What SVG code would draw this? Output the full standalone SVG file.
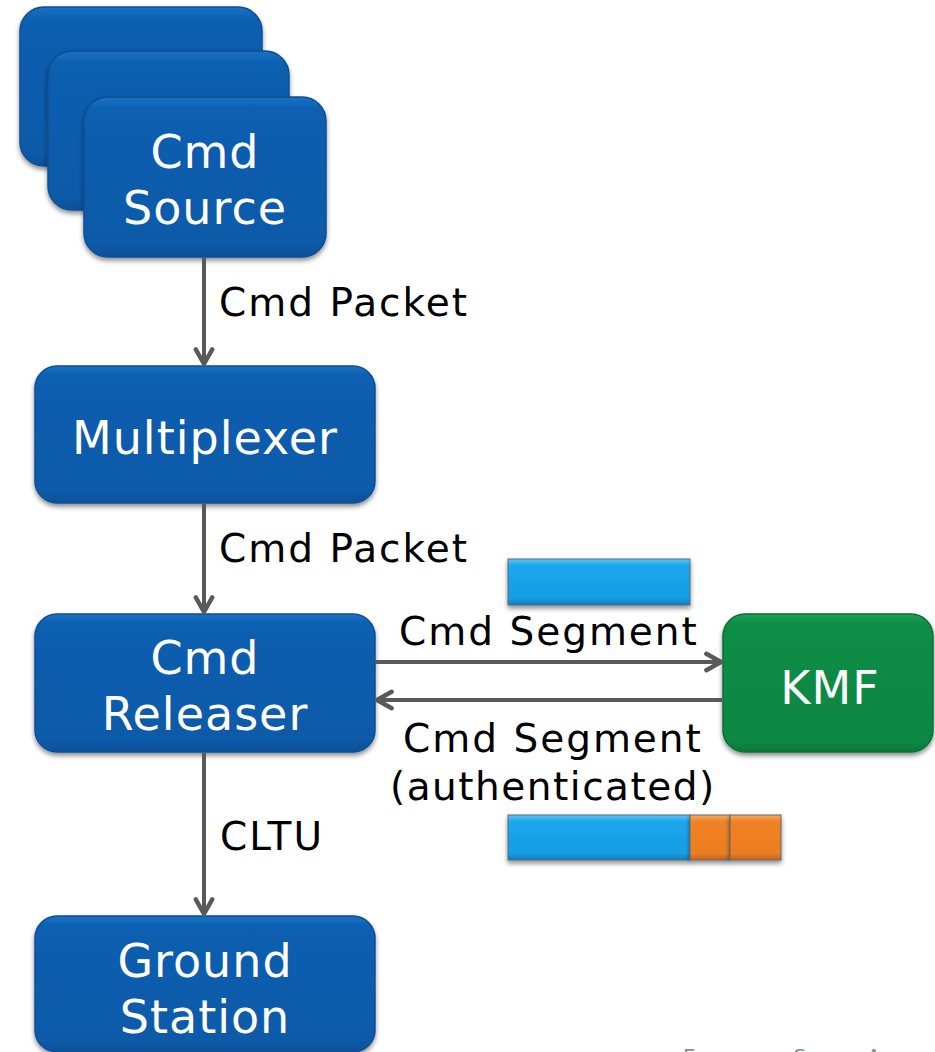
<svg xmlns="http://www.w3.org/2000/svg" width="935" height="1052" viewBox="0 0 935 1052">
  <defs>
    <linearGradient id="blueFill" x1="0" y1="0" x2="0" y2="1">
      <stop offset="0" stop-color="#1a72c4"/>
      <stop offset="0.08" stop-color="#0b5eb0"/>
      <stop offset="0.92" stop-color="#0a5aa9"/>
      <stop offset="1" stop-color="#094f96"/>
    </linearGradient>
    <linearGradient id="greenFill" x1="0" y1="0" x2="0" y2="1">
      <stop offset="0" stop-color="#1fa055"/>
      <stop offset="0.08" stop-color="#0d8c45"/>
      <stop offset="0.92" stop-color="#0c8843"/>
      <stop offset="1" stop-color="#0a7639"/>
    </linearGradient>
    <linearGradient id="cyanFill" x1="0" y1="0" x2="0" y2="1">
      <stop offset="0" stop-color="#5cc4f5"/>
      <stop offset="0.15" stop-color="#1ba6ec"/>
      <stop offset="0.85" stop-color="#179ee3"/>
      <stop offset="1" stop-color="#0f7dbb"/>
    </linearGradient>
    <linearGradient id="orangeFill" x1="0" y1="0" x2="0" y2="1">
      <stop offset="0" stop-color="#f7a95e"/>
      <stop offset="0.15" stop-color="#f08225"/>
      <stop offset="0.85" stop-color="#ec7d22"/>
      <stop offset="1" stop-color="#c4621a"/>
    </linearGradient>
    <filter id="shadow" x="-10%" y="-10%" width="120%" height="130%">
      <feGaussianBlur in="SourceAlpha" stdDeviation="2.5"/>
      <feOffset dx="0" dy="3" result="b"/>
      <feComponentTransfer><feFuncA type="linear" slope="0.45"/></feComponentTransfer>
      <feMerge><feMergeNode/><feMergeNode in="SourceGraphic"/></feMerge>
    </filter>
    <marker id="arrow" viewBox="0 0 12 12" refX="10" refY="6" markerWidth="5.5" markerHeight="5.5" markerUnits="strokeWidth" orient="auto">
      <polyline points="2,1.5 10,6 2,10.5" fill="none" stroke="#595959" stroke-width="2.4" stroke-linecap="round" stroke-linejoin="round"/>
    </marker>
  </defs>
  <style>
    .box { fill: url(#blueFill); stroke: #0a4f94; stroke-width: 1.5; filter: url(#shadow); }
    .kmf { fill: url(#greenFill); stroke: #0a6e36; stroke-width: 1.5; filter: url(#shadow); }
    .node-text { font-family: "DejaVu Sans", "Liberation Sans", sans-serif; font-size: 46px; fill: #ffffff; text-anchor: middle; letter-spacing: 1px; }
    .label { font-family: "DejaVu Sans", "Liberation Sans", sans-serif; font-size: 39px; fill: #000000; letter-spacing: 2px; }
    .label.tight { letter-spacing: 1.5px; }
    .conn { stroke: #595959; stroke-width: 4; fill: none; marker-end: url(#arrow); }
    .bar { stroke: #5a6a78; stroke-width: 1; filter: url(#shadow); }
  </style>

  <!-- Command source stack -->
  <g id="cmd-source">
    <rect class="box" x="20" y="7" width="242" height="159" rx="24"/>
    <rect class="box" x="48" y="51" width="241" height="159" rx="24"/>
    <rect class="box" x="84" y="97" width="242" height="160" rx="24"/>
    <text class="node-text" x="205" y="168">Cmd</text>
    <text class="node-text" x="205" y="224">Source</text>
  </g>

  <g id="multiplexer">
    <rect class="box" x="35" y="366" width="340" height="137" rx="22"/>
    <text class="node-text" x="205" y="454">Multiplexer</text>
  </g>

  <g id="cmd-releaser">
    <rect class="box" x="35" y="614" width="340" height="138" rx="22"/>
    <text class="node-text" x="205" y="674">Cmd</text>
    <text class="node-text" x="205" y="730">Releaser</text>
  </g>

  <g id="kmf">
    <rect class="kmf" x="723" y="614" width="210" height="138" rx="22"/>
    <text class="node-text" x="830" y="704">KMF</text>
  </g>

  <g id="ground-station">
    <rect class="box" x="35" y="916" width="340" height="136" rx="22"/>
    <text class="node-text" x="205" y="977">Ground</text>
    <text class="node-text" x="205" y="1033">Station</text>
  </g>

  <!-- Segment bars -->
  <g id="segment-plain">
    <rect class="bar" x="508" y="559" width="182" height="46" fill="url(#cyanFill)"/>
  </g>
  <g id="segment-authenticated">
    <rect class="bar" x="508" y="815" width="182" height="45" fill="url(#cyanFill)"/>
    <rect class="bar" x="690" y="815" width="40" height="45" fill="url(#orangeFill)"/>
    <rect class="bar" x="730" y="815" width="51" height="45" fill="url(#orangeFill)"/>
  </g>

  <!-- Connectors -->
  <g id="connectors">
    <line class="conn" x1="204" y1="258" x2="204" y2="364"/>
    <line class="conn" x1="204" y1="504" x2="204" y2="612"/>
    <line class="conn" x1="375" y1="662" x2="721" y2="662"/>
    <line class="conn" x1="722" y1="700" x2="377" y2="700"/>
    <line class="conn" x1="204" y1="753" x2="204" y2="914"/>
  </g>

  <!-- Connector labels -->
  <g id="labels">
    <text class="label" x="219" y="316">Cmd Packet</text>
    <text class="label" x="219" y="562">Cmd Packet</text>
    <text class="label" x="399" y="645">Cmd Segment</text>
    <text class="label" x="403" y="752">Cmd Segment</text>
    <text class="label tight" x="390" y="800">(authenticated)</text>
    <text class="label" x="220" y="850">CLTU</text>
  </g>

  <!-- Footer credit, running off the lower edge -->
  <text x="683" y="1063" font-family="DejaVu Sans, sans-serif" font-size="20" fill="#8a8a8a" letter-spacing="1">European Space Agency</text>
</svg>
